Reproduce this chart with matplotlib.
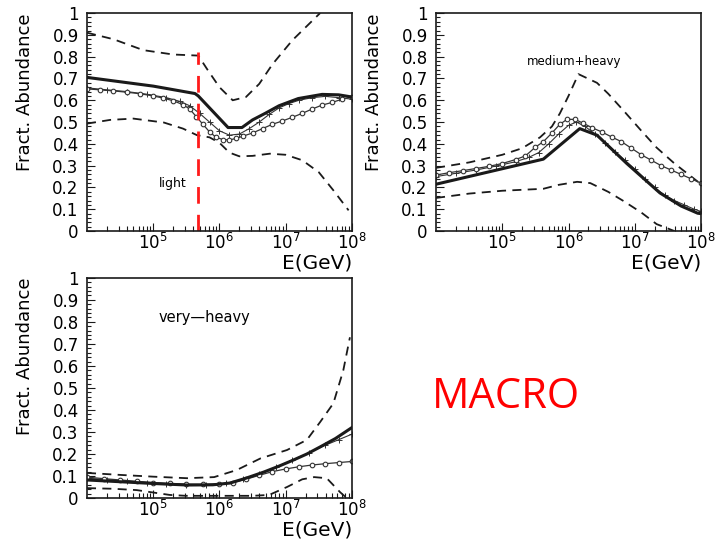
import numpy as np
import matplotlib
matplotlib.use("Agg")
import matplotlib.pyplot as plt
from matplotlib.ticker import FixedLocator, LogLocator, MultipleLocator, NullFormatter

# log10(E/GeV) and fractional abundance for each curve, per mass group

# light group
light_hi_lg = [4.0, 4.4, 4.85, 5.3, 5.68, 5.82, 6.0, 6.2, 6.4, 6.6, 6.8, 7.1, 7.52]
light_hi_y = [0.91, 0.88, 0.83, 0.81, 0.805, 0.74, 0.66, 0.60, 0.615, 0.675, 0.765, 0.875, 1.0]
light_fit_lg = [4.0, 5.0, 5.63, 5.68, 6.13, 6.34, 6.5, 6.69, 6.9, 7.19, 7.55, 7.8, 8.0]
light_fit_y = [0.705, 0.665, 0.631, 0.62, 0.475, 0.475, 0.51, 0.54, 0.575, 0.608, 0.627, 0.625, 0.615]
light_circ_lg = [4.0, 4.2, 4.4, 4.6, 4.8, 5.0, 5.15, 5.3, 5.45, 5.55, 5.65, 5.75, 5.85, 5.95,
                 6.05, 6.15, 6.25, 6.35, 6.5, 6.65, 6.8, 6.95, 7.1, 7.25, 7.4, 7.55, 7.7, 7.85, 8.0]
light_circ_y = [0.652, 0.648, 0.643, 0.637, 0.63, 0.62, 0.61, 0.598, 0.58, 0.56, 0.525, 0.49, 0.455, 0.43,
                0.42, 0.418, 0.425, 0.435, 0.45, 0.47, 0.49, 0.505, 0.522, 0.54, 0.56, 0.578, 0.59, 0.605, 0.615]
light_cross_lg = [4.0, 4.3, 4.6, 4.9, 5.2, 5.4, 5.55, 5.7, 5.85, 6.0, 6.15, 6.3, 6.45, 6.6,
                  6.75, 6.9, 7.05, 7.2, 7.4, 7.6, 7.8, 8.0]
light_cross_y = [0.657, 0.648, 0.64, 0.628, 0.612, 0.595, 0.575, 0.54, 0.50, 0.46, 0.44, 0.445, 0.47, 0.50,
                 0.535, 0.565, 0.585, 0.60, 0.612, 0.618, 0.612, 0.605]
light_lo_lg = [4.0, 4.35, 4.7, 5.16, 5.45, 5.66, 5.85, 6.0, 6.15, 6.3, 6.5, 6.76, 7.0, 7.25, 7.5, 7.72, 7.95]
light_lo_y = [0.493, 0.51, 0.516, 0.498, 0.47, 0.44, 0.43, 0.405, 0.36, 0.343, 0.345, 0.355, 0.35, 0.325, 0.27, 0.187, 0.095]
knee_lg = 5.68
knee_top = 0.82

# medium + heavy group
mh_hi_lg = [4.0, 4.5, 5.0, 5.3, 5.57, 5.75, 5.87, 6.0, 6.15, 6.43, 6.6, 6.83, 7.1, 7.33, 7.6, 7.98]
mh_hi_y = [0.29, 0.315, 0.35, 0.38, 0.43, 0.48, 0.54, 0.62, 0.72, 0.68, 0.63, 0.553, 0.46, 0.383, 0.31, 0.22]
mh_fit_lg = [4.0, 5.62, 6.17, 6.43, 6.88, 7.38, 7.7, 7.95, 8.0]
mh_fit_y = [0.215, 0.33, 0.47, 0.44, 0.31, 0.175, 0.115, 0.082, 0.08]
mh_circ_lg = [4.0, 4.2, 4.4, 4.6, 4.8, 5.0, 5.2, 5.35, 5.5, 5.62, 5.75, 5.87, 5.98, 6.1,
              6.22, 6.35, 6.5, 6.65, 6.8, 6.95, 7.1, 7.25, 7.4, 7.55, 7.7, 7.85, 8.0]
mh_circ_y = [0.257, 0.268, 0.277, 0.287, 0.297, 0.31, 0.328, 0.345, 0.385, 0.41, 0.45, 0.49, 0.513, 0.512,
             0.495, 0.475, 0.455, 0.432, 0.41, 0.38, 0.35, 0.325, 0.30, 0.28, 0.26, 0.24, 0.22]
mh_cross_lg = [4.0, 4.3, 4.6, 4.9, 5.2, 5.4, 5.55, 5.7, 5.85, 6.0, 6.12, 6.25, 6.4, 6.55,
               6.7, 6.85, 7.0, 7.15, 7.3, 7.45, 7.6, 7.75, 7.9, 8.0]
mh_cross_y = [0.25, 0.265, 0.28, 0.298, 0.318, 0.338, 0.36, 0.40, 0.445, 0.485, 0.50, 0.48, 0.445, 0.405,
              0.365, 0.325, 0.285, 0.24, 0.20, 0.165, 0.14, 0.12, 0.10, 0.09]
mh_lo_lg = [4.0, 4.5, 5.0, 5.62, 5.85, 6.13, 6.33, 6.6, 6.83, 7.1, 7.33, 7.6]
mh_lo_y = [0.152, 0.172, 0.185, 0.194, 0.212, 0.226, 0.22, 0.18, 0.138, 0.085, 0.032, 0.0]

# very-heavy group
vh_hi_lg = [4.0, 4.5, 5.0, 5.51, 5.92, 6.26, 6.62, 7.02, 7.32, 7.52, 7.72, 7.87, 7.97]
vh_hi_y = [0.114, 0.105, 0.097, 0.09, 0.095, 0.127, 0.18, 0.218, 0.264, 0.345, 0.43, 0.58, 0.73]
vh_fit_lg = [4.0, 4.5, 5.0, 5.51, 5.9, 6.16, 6.4, 6.67, 6.9, 7.12, 7.32, 7.52, 7.75, 8.0]
vh_fit_y = [0.082, 0.074, 0.066, 0.059, 0.06, 0.068, 0.09, 0.118, 0.145, 0.173, 0.2, 0.232, 0.27, 0.32]
vh_cross_lg = [4.0, 4.3, 4.6, 4.9, 5.2, 5.5, 5.8, 6.1, 6.35, 6.6, 6.85, 7.1, 7.35, 7.6, 7.8, 8.0]
vh_cross_y = [0.09, 0.083, 0.076, 0.07, 0.065, 0.06, 0.06, 0.067, 0.085, 0.11, 0.14, 0.172, 0.205, 0.24, 0.265, 0.29]
vh_circ_lg = [4.0, 4.25, 4.5, 4.75, 5.0, 5.25, 5.5, 5.75, 6.0, 6.2, 6.4, 6.6, 6.8, 7.0,
              7.2, 7.4, 7.6, 7.8, 8.0]
vh_circ_y = [0.095, 0.088, 0.082, 0.076, 0.07, 0.066, 0.063, 0.062, 0.064, 0.07, 0.085, 0.103, 0.12, 0.132,
             0.142, 0.15, 0.156, 0.161, 0.166]
vh_lo_lg = [4.0, 4.4, 4.75, 5.0, 5.25, 5.5, 6.0, 6.5, 6.75, 7.02, 7.25, 7.43, 7.62, 7.82, 7.92]
vh_lo_y = [0.045, 0.042, 0.036, 0.025, 0.014, 0.01, 0.01, 0.01, 0.014, 0.05, 0.085, 0.095, 0.09, 0.027, 0.0]

y_ticks = [0, 0.1, 0.2, 0.3, 0.4, 0.5, 0.6, 0.7, 0.8, 0.9, 1]
y_tick_labels = ["0", "0.1", "0.2", "0.3", "0.4", "0.5", "0.6", "0.7", "0.8", "0.9", "1"]
x_ticks = [1e5, 1e6, 1e7, 1e8]
x_tick_labels = [r"$10^{5}$", r"$10^{6}$", r"$10^{7}$", r"$10^{8}$"]

INK = "#1a1a1a"


def E(lg):
    return 10.0 ** np.asarray(lg)


def draw_group(ax, hi, fit, circ, cross, lo):
    ax.plot(E(hi[0]), hi[1], color=INK, lw=1.3, dashes=(5, 3.5))
    ax.plot(E(lo[0]), lo[1], color=INK, lw=1.3, dashes=(5, 3.5))
    ax.plot(E(cross[0]), cross[1], color="#333333", lw=0.8, marker="+", ms=4, mew=0.7)
    ax.plot(E(circ[0]), circ[1], color="#333333", lw=0.9, marker="o", ms=3.3,
            mfc="white", mec="#333333", mew=0.8)
    ax.plot(E(fit[0]), fit[1], color=INK, lw=2.2)


def style_axes(ax):
    ax.set_xscale("log")
    ax.set_xlim(1e4, 1e8)
    ax.set_ylim(0, 1)
    ax.yaxis.set_major_locator(FixedLocator(y_ticks))
    ax.set_yticklabels(y_tick_labels)
    ax.yaxis.set_minor_locator(MultipleLocator(0.02))
    ax.xaxis.set_major_locator(FixedLocator(x_ticks))
    ax.set_xticklabels(x_tick_labels)
    ax.xaxis.set_minor_locator(LogLocator(base=10, subs=np.arange(2, 10), numticks=20))
    ax.xaxis.set_minor_formatter(NullFormatter())
    ax.tick_params(axis="both", which="both", direction="in", top=False, right=False,
                   color=INK, width=0.8)
    ax.tick_params(axis="y", which="major", length=6, pad=6, labelsize=12)
    ax.tick_params(axis="y", which="minor", length=3)
    ax.tick_params(axis="x", which="major", length=6, pad=1, labelsize=12)
    ax.tick_params(axis="x", which="minor", length=3.5)
    for s in ax.spines.values():
        s.set_color(INK)
        s.set_linewidth(1.2)
    ax.set_ylabel("Fract. Abundance", fontsize=13, loc="top")
    ax.yaxis.set_label_coords(-0.2, 1.0)
    ax.set_xlabel("E(GeV)", fontsize=14.5, loc="right", labelpad=0.5)


fig = plt.figure(figsize=(7.16, 5.45), dpi=100)
ax1 = fig.add_axes([0.1215, 0.576, 0.370, 0.400])
ax2 = fig.add_axes([0.609, 0.576, 0.370, 0.400])
ax3 = fig.add_axes([0.1215, 0.0862, 0.370, 0.404])

draw_group(ax1, (light_hi_lg, light_hi_y), (light_fit_lg, light_fit_y),
           (light_circ_lg, light_circ_y), (light_cross_lg, light_cross_y),
           (light_lo_lg, light_lo_y))
ax1.plot([10 ** knee_lg, 10 ** knee_lg], [0, knee_top], color="#ff1a1a", lw=2, dashes=(6, 4))
ax1.text(10 ** 5.3, 0.22, "light", fontsize=9, ha="center", va="center")

draw_group(ax2, (mh_hi_lg, mh_hi_y), (mh_fit_lg, mh_fit_y),
           (mh_circ_lg, mh_circ_y), (mh_cross_lg, mh_cross_y),
           (mh_lo_lg, mh_lo_y))
ax2.text(10 ** 6.08, 0.78, "medium+heavy", fontsize=8.5, ha="center", va="center")

draw_group(ax3, (vh_hi_lg, vh_hi_y), (vh_fit_lg, vh_fit_y),
           (vh_circ_lg, vh_circ_y), (vh_cross_lg, vh_cross_y),
           (vh_lo_lg, vh_lo_y))
ax3.text(10 ** 5.78, 0.82, "very\u2014heavy", fontsize=10.5, ha="center", va="center")

for ax in (ax1, ax2, ax3):
    style_axes(ax)

fig.text(0.603, 0.2514, "MACRO", color="#ff0000", fontsize=30,
         family=["Open Sans", "DejaVu Sans"], ha="left", va="baseline")

fig.savefig("out.png", dpi=100, facecolor="white")
